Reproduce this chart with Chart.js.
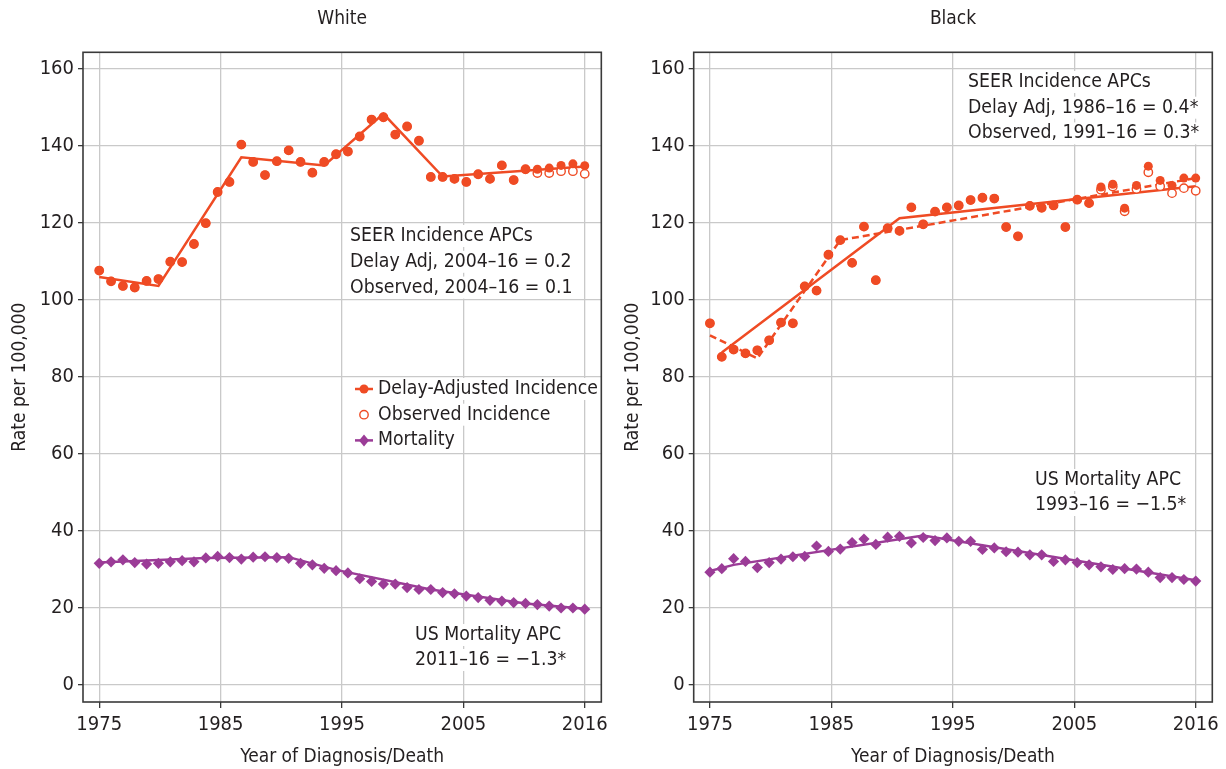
<!DOCTYPE html>
<html>
<head>
<meta charset="utf-8">
<title>Incidence and mortality, White and Black</title>
<script src="https://cdn.jsdelivr.net/npm/chart.js@4.4.1/dist/chart.umd.min.js"></script>
<style>
    html, body { margin: 0; padding: 0; background: #fff; }
    #wrap { position: relative; width: 1226px; height: 769px; }
    .panel { position: absolute; top: 0; width: 613px; height: 769px; }
</style>
</head>
<body>
<div id="wrap">
    <div class="panel" style="left:0"><canvas id="whiteChart" width="613" height="769"></canvas></div>
    <div class="panel" style="left:613px"><canvas id="blackChart" width="613" height="769"></canvas></div>
</div>
<script>
const years = [1975, 1976, 1977, 1978, 1979, 1980, 1981, 1982, 1983, 1984, 1985, 1986, 1987, 1988,
    1989, 1990, 1991, 1992, 1993, 1994, 1995, 1996, 1997, 1998, 1999, 2000, 2001, 2002,
    2003, 2004, 2005, 2006, 2007, 2008, 2009, 2010, 2011, 2012, 2013, 2014, 2015, 2016];

// the source plot spaces its five gridlines evenly, so the inner ones sit between years
const xTickPositions = [1975, 1985.25, 1995.5, 2005.75, 2016];
const xTickLabels = ['1975', '1985', '1995', '2005', '2016'];
const yTicks = [0, 20, 40, 60, 80, 100, 120, 140, 160];

// White
const whiteDelayAdj = [107.6, 104.8, 103.6, 103.2, 104.9, 105.4, 109.9, 109.8, 114.5, 119.9, 128.0, 130.6, 140.3, 135.8,
    132.4, 136.0, 138.8, 135.8, 133.0, 135.8, 137.8, 138.5, 142.4, 146.8, 147.4, 142.9, 145.0, 141.3,
    131.9, 131.9, 131.4, 130.6, 132.6, 131.4, 134.9, 131.1, 133.9, 133.9, 134.2, 134.9, 135.3, 134.8];
const whiteObserved = [107.6, 104.8, 103.6, 103.2, 104.9, 105.4, 109.9, 109.8, 114.5, 119.9, 128.0, 130.6, 140.3, 135.8,
    132.4, 136.0, 138.8, 135.8, 133.0, 135.8, 137.8, 138.5, 142.4, 146.8, 147.4, 142.9, 145.0, 141.3,
    131.9, 131.9, 131.4, 130.6, 132.6, 131.4, 134.9, 131.1, 133.9, 132.9, 132.9, 133.4, 133.4, 132.7];
const whiteMortality = [31.6, 32.0, 32.5, 31.8, 31.4, 31.6, 32.0, 32.3, 32.0, 33.0, 33.4, 33.1, 32.7, 33.2,
    33.3, 33.1, 32.9, 31.6, 31.2, 30.3, 29.7, 29.1, 27.6, 26.9, 26.2, 26.2, 25.3, 24.8,
    24.8, 24.0, 23.7, 23.1, 22.7, 22.0, 21.8, 21.4, 21.2, 20.9, 20.5, 20.0, 20.0, 19.7];
const whiteIncTrendYears = [1975, 1980, 1987, 1994, 1999, 2004, 2016];
const whiteIncTrend = [105.9, 103.6, 137.0, 134.9, 148.3, 132.0, 134.6];
const whiteMortTrendYears = [1975, 1984, 1991, 1995, 2003, 2011, 2016];
const whiteMortTrend = [31.8, 33.0, 33.2, 29.9, 24.8, 21.2, 19.8];

// Black
const blackDelayAdj = [93.9, 85.2, 87.1, 86.1, 86.9, 89.5, 94.1, 93.9, 103.5, 102.4, 111.7, 115.5, 109.6, 119.0,
    105.1, 118.6, 117.9, 124.0, 119.6, 122.9, 124.0, 124.5, 125.9, 126.5, 126.3, 118.9, 116.5, 124.4,
    123.9, 124.5, 118.9, 126.0, 125.1, 129.3, 130.0, 123.8, 129.7, 134.7, 131.0, 129.7, 131.6, 131.6];
const blackObserved = [93.9, 85.2, 87.1, 86.1, 86.9, 89.5, 94.1, 93.9, 103.5, 102.4, 111.7, 115.5, 109.6, 119.0,
    105.1, 118.6, 117.9, 124.0, 119.6, 122.9, 124.0, 124.5, 125.9, 126.5, 126.3, 118.9, 116.5, 124.4,
    123.9, 124.5, 118.9, 126.0, 125.1, 128.6, 129.4, 123.0, 128.8, 133.1, 129.5, 127.7, 129.0, 128.3];
const blackMortality = [29.3, 30.2, 32.8, 32.1, 30.5, 31.8, 32.7, 33.3, 33.4, 36.1, 34.7, 35.3, 37.0, 37.9,
    36.5, 38.4, 38.6, 36.9, 38.3, 37.5, 38.2, 37.3, 37.3, 35.2, 35.6, 34.6, 34.5, 33.8,
    33.8, 32.1, 32.5, 31.8, 31.2, 30.7, 30.0, 30.2, 30.1, 29.3, 27.9, 27.9, 27.4, 27.0];
const blackDelayTrendYears = [1975, 1979, 1986, 2016];
const blackDelayTrend = [90.8, 84.8, 115.5, 131.6];
const blackObsTrendYears = [1976, 1991, 2016];
const blackObsTrend = [86.3, 121.2, 129.5];
const blackMortTrendYears = [1975, 1977, 1993, 2016];
const blackMortTrend = [29.6, 31.2, 38.8, 27.2];

const fontFamily = "'Liberation Sans Narrow', 'DejaVu Sans Condensed', 'Arial Narrow', Roboto, sans-serif";
const tickFont = { family: fontFamily, size: 20, weight: 'normal' };
const titleFont = { family: fontFamily, size: 19, weight: 'normal' };
const noteSize = 19.3;
const ink = '#231f20';
const orange = '#ef4b24';
const purple = '#9b3c97';
const gridGray = '#c9c9c9';
const frameGray = '#3a3a3a';

function pairs(xs, ys) {
    return xs.map((x, i) => ({ x, y: ys[i] }));
}

function pointSet(label, values, style) {
    return Object.assign({
        label,
        data: pairs(years, values),
        showLine: false,
        borderWidth: 0,
    }, style);
}

function trendSet(xs, values, color, dash) {
    return {
        label: '',
        data: pairs(xs, values),
        borderColor: color,
        borderWidth: 2.5,
        borderDash: dash || [],
        pointRadius: 0,
        tension: 0,
        fill: false,
    };
}

const delayStyle = { pointStyle: 'circle', pointRadius: 4.5, backgroundColor: orange, borderColor: orange };
const observedStyle = { pointStyle: 'circle', pointRadius: 4.2, backgroundColor: '#fff', borderColor: orange, borderWidth: 1.4 };
const mortStyle = { pointStyle: 'rectRot', pointRadius: 5.6, backgroundColor: purple, borderColor: purple };

function drawMarker(ctx, kind, x, y) {
    ctx.beginPath();
    if (kind === 'diamond') {
        ctx.moveTo(x, y - 6);
        ctx.lineTo(x + 5, y);
        ctx.lineTo(x, y + 6);
        ctx.lineTo(x - 5, y);
        ctx.closePath();
        ctx.fillStyle = purple;
        ctx.fill();
    } else if (kind === 'open') {
        ctx.arc(x, y, 4.2, 0, Math.PI * 2);
        ctx.fillStyle = '#fff';
        ctx.fill();
        ctx.lineWidth = 1.4;
        ctx.strokeStyle = orange;
        ctx.stroke();
    } else {
        ctx.arc(x, y, 4.5, 0, Math.PI * 2);
        ctx.fillStyle = orange;
        ctx.fill();
    }
}

function textWithBackground(ctx, text, x, y) {
    const w = ctx.measureText(text).width;
    ctx.fillStyle = '#fff';
    ctx.fillRect(x - 2, y - 11, w + 4, 22);
    ctx.fillStyle = ink;
    ctx.fillText(text, x, y);
}

const panelDecor = {
    id: 'panelDecor',
    beforeDatasetsDraw(chart, args, opts) {
        const { ctx, chartArea: area } = chart;
        ctx.save();
        ctx.font = `${noteSize}px ${fontFamily}`;
        ctx.textBaseline = 'middle';
        ctx.textAlign = 'left';
        (opts.notes || []).forEach((note) => {
            note.lines.forEach((text, i) => {
                textWithBackground(ctx, text, area.left + note.dx, area.top + note.dy + i * note.gap);
            });
        });
        ctx.restore();
    },
    afterDatasetsDraw(chart, args, opts) {
        const { ctx, chartArea: area } = chart;
        ctx.save();
        if (opts.legend) {
            const lg = opts.legend;
            ctx.font = `${noteSize}px ${fontFamily}`;
            ctx.textBaseline = 'middle';
            lg.items.forEach((item, i) => {
                const x = area.left + lg.dx;
                const y = area.top + lg.dy + i * lg.gap;
                textWithBackground(ctx, chart.data.datasets[item.dataset].label, x + 23, y);
                if (item.line) {
                    ctx.beginPath();
                    ctx.moveTo(x, y);
                    ctx.lineTo(x + 18, y);
                    ctx.lineWidth = 2.5;
                    ctx.strokeStyle = item.color;
                    ctx.stroke();
                }
                drawMarker(ctx, item.marker, x + 9, y);
            });
        }
        ctx.lineWidth = 1.6;
        ctx.strokeStyle = frameGray;
        ctx.strokeRect(area.left, area.top, area.right - area.left, area.bottom - area.top);
        ctx.restore();
    },
};

function buildConfig(p) {
    return {
        type: 'line',
        data: { datasets: p.datasets },
        options: {
            responsive: false,
            animation: false,
            layout: { padding: { left: 0, right: p.padRight, top: 0, bottom: 0 } },
            plugins: {
                legend: { display: false },
                tooltip: { enabled: false },
                title: {
                    display: true,
                    text: p.title,
                    fullSize: false,
                    color: ink,
                    font: titleFont,
                    padding: { top: 8, bottom: 21.5 },
                },
                panelDecor: { notes: p.notes, legend: p.legend },
            },
            scales: {
                x: {
                    type: 'linear',
                    min: 1973.63,
                    max: 2017.4,
                    afterBuildTicks: (scale) => {
                        scale.ticks = xTickPositions.map((value) => ({ value }));
                    },
                    afterFit: (scale) => { scale.height = 67; },
                    ticks: {
                        autoSkip: false,
                        maxRotation: 0,
                        color: ink,
                        font: tickFont,
                        padding: 5,
                        callback: (value, index) => xTickLabels[index],
                    },
                    grid: { color: gridGray, lineWidth: 1.3, tickColor: frameGray, tickLength: 6 },
                    border: { display: false },
                    title: {
                        display: true,
                        text: 'Year of Diagnosis/Death',
                        color: ink,
                        font: titleFont,
                        padding: { top: 0, bottom: 1 },
                    },
                },
                y: {
                    type: 'linear',
                    min: -4.4,
                    max: 164.26,
                    afterBuildTicks: (scale) => {
                        scale.ticks = yTicks.map((value) => ({ value }));
                    },
                    afterFit: (scale) => { scale.width = p.yWidth; },
                    ticks: { color: ink, font: tickFont, padding: 4 },
                    grid: { color: gridGray, lineWidth: 1.3, tickColor: frameGray, tickLength: 5 },
                    border: { display: false },
                    title: {
                        display: true,
                        text: 'Rate per 100,000',
                        color: ink,
                        font: titleFont,
                        padding: { top: 8.6, bottom: 0 },
                    },
                },
            },
        },
        plugins: [panelDecor],
    };
}

new Chart(document.getElementById('whiteChart'), buildConfig({
    title: 'White',
    yWidth: 83,
    padRight: 10.7,
    datasets: [
        pointSet('Delay-Adjusted Incidence', whiteDelayAdj, delayStyle),
        pointSet('Observed Incidence', whiteObserved, observedStyle),
        pointSet('Mortality', whiteMortality, mortStyle),
        trendSet(whiteIncTrendYears, whiteIncTrend, orange),
        trendSet(whiteMortTrendYears, whiteMortTrend, purple),
    ],
    notes: [
        { dx: 267, dy: 183.7, gap: 25.8, lines: ['SEER Incidence APCs', 'Delay Adj, 2004\u201316 = 0.2', 'Observed, 2004\u201316 = 0.1'] },
        { dx: 332, dy: 582.7, gap: 25, lines: ['US Mortality APC', '2011\u201316 = \u22121.3*'] },
    ],
    legend: {
        dx: 272,
        dy: 336.7,
        gap: 25.7,
        items: [
            { dataset: 0, line: true, color: orange, marker: 'dot' },
            { dataset: 1, line: false, marker: 'open' },
            { dataset: 2, line: true, color: purple, marker: 'diamond' },
        ],
    },
}));

new Chart(document.getElementById('blackChart'), buildConfig({
    title: 'Black',
    yWidth: 80.7,
    padRight: 13.7,
    datasets: [
        pointSet('Delay-Adjusted Incidence', blackDelayAdj, delayStyle),
        pointSet('Observed Incidence', blackObserved, observedStyle),
        pointSet('Mortality', blackMortality, mortStyle),
        trendSet(blackObsTrendYears, blackObsTrend, orange),
        trendSet(blackDelayTrendYears, blackDelayTrend, orange, [7, 4]),
        trendSet(blackMortTrendYears, blackMortTrend, purple),
    ],
    notes: [
        { dx: 274.3, dy: 29.7, gap: 25.7, lines: ['SEER Incidence APCs', 'Delay Adj, 1986\u201316 = 0.4*', 'Observed, 1991\u201316 = 0.3*'] },
        { dx: 341.3, dy: 427.7, gap: 25, lines: ['US Mortality APC', '1993\u201316 = \u22121.5*'] },
    ],
    legend: null,
}));
</script>
</body>
</html>
